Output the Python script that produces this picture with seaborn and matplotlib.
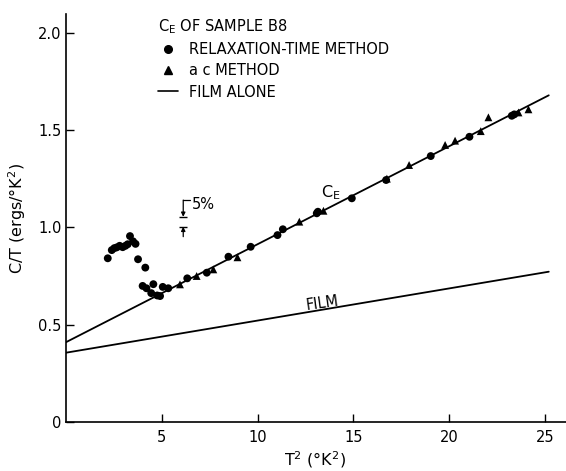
import matplotlib
matplotlib.use("Agg")
import matplotlib.pyplot as plt
import seaborn as sns
import pandas as pd
from matplotlib.lines import Line2D

# C_E of sample B8 (T^2 in K^2, C/T in ergs/K^2)
relax_t2 = [2.18, 2.39, 2.52, 2.65, 2.80, 2.96, 3.10, 3.22, 3.34, 3.50, 3.63,
            3.76, 4.14, 4.00, 4.20, 4.45, 4.56, 4.76, 4.91, 5.05, 5.34,
            6.33, 7.35, 8.48, 9.64, 11.04, 11.32, 13.09, 13.15, 14.92, 16.71,
            19.04, 21.06, 23.27, 23.40]
relax_ct = [0.841, 0.883, 0.893, 0.897, 0.905, 0.898, 0.905, 0.913, 0.955, 0.928, 0.915,
            0.836, 0.793, 0.699, 0.687, 0.662, 0.708, 0.650, 0.647, 0.694, 0.687,
            0.738, 0.767, 0.849, 0.900, 0.960, 0.990, 1.072, 1.080, 1.149, 1.243,
            1.366, 1.465, 1.573, 1.580]

ac_t2 = [5.95, 6.82, 7.69, 8.95, 12.18, 13.44, 16.75, 17.91, 19.79, 20.31,
         21.65, 22.05, 23.62, 24.14]
ac_ct = [0.707, 0.750, 0.784, 0.846, 1.029, 1.085, 1.250, 1.320, 1.423, 1.445,
         1.494, 1.565, 1.590, 1.606]

# the two straight lines of the original
ce_line_t2 = [0.0, 25.2]
ce_line_ct = [0.41, 1.678]
film_line_t2 = [0.0, 25.2]
film_line_ct = [0.356, 0.772]

# 5% scale marker
err_x = 6.12
err_levels = [1.054, 1.003]

x_ticks = [5, 10, 15, 20, 25]
y_ticks = [0, 0.5, 1.0, 1.5, 2.0]
y_ticklabels = ["0", "0.5", "1.0", "1.5", "2.0"]

sns.set_style("ticks")
plt.rcParams["font.family"] = ["DejaVu Sans"]
plt.rcParams["mathtext.default"] = "regular"
plt.rcParams["text.color"] = "black"
plt.rcParams["axes.labelcolor"] = "black"
FS = 10.5

df = pd.concat([
    pd.DataFrame({"t2": relax_t2, "ct": relax_ct, "method": "RELAXATION-TIME METHOD"}),
    pd.DataFrame({"t2": ac_t2, "ct": ac_ct, "method": "a c METHOD"}),
])

fig = plt.figure(figsize=(5.66, 4.71), dpi=100)
ax = fig.add_axes([0.1166, 0.104, 0.8834, 0.866])

sns.lineplot(x=ce_line_t2, y=ce_line_ct, ax=ax, color="black", lw=1.3)
sns.lineplot(x=film_line_t2, y=film_line_ct, ax=ax, color="black", lw=1.3)
sns.scatterplot(data=df, x="t2", y="ct", style="method",
                markers={"RELAXATION-TIME METHOD": "o", "a c METHOD": "^"},
                color="black", s=32, edgecolor="black", linewidth=0,
                legend=False, ax=ax, zorder=3)

# 5% marker
for lev in err_levels:
    ax.hlines(lev, err_x - 0.2, err_x + 0.2, color="black", lw=1.0)
ax.annotate("", xy=(err_x, err_levels[0]), xytext=(err_x, 1.14),
            arrowprops=dict(arrowstyle="-|>", color="black", lw=0.9, mutation_scale=6,
                            shrinkA=0, shrinkB=0))
ax.plot([err_x, err_x + 0.35], [1.14, 1.14], color="black", lw=0.9)
ax.annotate("", xy=(err_x, err_levels[1]), xytext=(err_x, 0.952),
            arrowprops=dict(arrowstyle="-|>", color="black", lw=0.9, mutation_scale=6,
                            shrinkA=0, shrinkB=0))
ax.text(err_x + 0.45, 1.118, "5%", fontsize=FS, va="center", ha="left")

ax.text(13.3, 1.18, "$C_E$", fontsize=FS + 1, ha="left", va="center")
ax.text(13.4, 0.61, "FILM", fontsize=FS, ha="center", va="center", rotation=8)

handles = [
    Line2D([], [], marker="o", ls="", color="black", markersize=5.5),
    Line2D([], [], marker="^", ls="", color="black", markersize=5.5),
    Line2D([], [], ls="-", color="black", lw=1.2),
]
leg = ax.legend(handles, ["RELAXATION-TIME METHOD", "a c METHOD", "FILM ALONE"],
                title="$C_E$ OF SAMPLE B8", title_fontsize=FS, fontsize=FS,
                loc="upper left", bbox_to_anchor=(0.279, 0.963),
                bbox_transform=fig.transFigure, frameon=False,
                handlelength=1.4, handletextpad=0.7, labelspacing=0.42,
                alignment="left", borderaxespad=0, borderpad=0)
for t in leg.get_texts():
    t.set_color("black")
leg.get_title().set_color("black")

ax.set_xlim(0, 26.1)
ax.set_ylim(0, 2.095)
ax.set_xticks(x_ticks)
ax.set_yticks(y_ticks)
ax.set_yticklabels(y_ticklabels)
ax.tick_params(direction="in", length=6, width=1, colors="black", labelsize=FS)
ax.tick_params(axis="y", pad=3)
ax.tick_params(axis="x", pad=6)
sns.despine(ax=ax)
for s in ["left", "bottom"]:
    ax.spines[s].set_linewidth(1.2)
    ax.spines[s].set_color("black")

ax.set_xlabel("T$^{2}$ (°K$^{2}$)", fontsize=FS + 1)
ax.set_ylabel("C/T (ergs/°K$^{2}$)", fontsize=FS + 1)
ax.xaxis.set_label_coords(0.498, -0.068)
ax.yaxis.set_label_coords(-0.076, 0.50)

fig.savefig("out.png", dpi=100, facecolor="white")
